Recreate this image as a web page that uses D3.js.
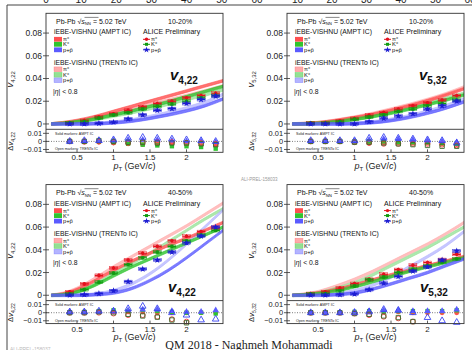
<!DOCTYPE html>
<html>
<head>
<meta charset="utf-8">
<script src="https://cdn.jsdelivr.net/npm/d3@7"></script>
<style>
body{margin:0;background:#fff;}
svg{display:block;font-family:"Liberation Sans",Arial,sans-serif;}
</style>
</head>
<body>
<svg id="chart" width="472" height="350"></svg>
<script>
// pT bins of the ALICE points and of the hydro curves
var ptData = [0.4,0.6,0.8,1.0,1.2,1.4,1.6,1.8,2.0,2.2,2.4];
var ptModel = [0.15,0.3,0.5,0.75,1.0,1.25,1.5,1.75,2.0,2.25,2.5];
var speciesSym = ["π","K","p+p\u0304"];
var yTicks = [0,0.02,0.04,0.06,0.08];
var dTicks = [-0.01,0,0.01];
var xTicks = [0.5,1,1.5,2];
var topTicks = [0,10,20,30,40,50,60];
var bandHalf = 0.0012;

// v4,22  10-20%   (rows: pi, K, p)
var v4c1Data   = [[0.001,0.003,0.006,0.009,0.012,0.015,0.018,0.020,0.023,0.025,0.027],
                  [0.001,0.002,0.005,0.008,0.010,0.013,0.0155,0.0175,0.020,0.023,0.025],
                  [0,0,0.0005,0.0015,0.0045,0.008,0.012,0.0135,0.018,0.0215,0.0245]];
var v4c1Ampt   = [[0,0.001,0.003,0.0065,0.011,0.0155,0.020,0.0245,0.029,0.0335,0.038],
                  [0,0.0005,0.002,0.0045,0.008,0.0115,0.0155,0.0195,0.024,0.0285,0.033],
                  [0,0,0,0.0002,0.001,0.0025,0.005,0.008,0.0115,0.016,0.022]];
var v4c1Trento = [[0,0.0008,0.0025,0.0055,0.009,0.013,0.017,0.021,0.025,0.029,0.0335],
                  [0,0.0005,0.0018,0.004,0.007,0.010,0.0135,0.0175,0.0215,0.0255,0.030],
                  [0,0,0,0.0005,0.0015,0.0035,0.0065,0.010,0.014,0.019,0.026]];
var v4c1dAmpt  = [[0,-0.001,-0.001,-0.002,-0.003,-0.004,-0.003,-0.003,-0.004,-0.005,-0.006],
                  [0,0,0,-0.001,-0.003,-0.004,-0.005,-0.006,-0.006,-0.007,-0.009],
                  [0,0,0.001,0.001,0.002,0.002,0.002,0.001,0,0,-0.001]];
var v4c1dTrento= [[0,0,0,-0.001,-0.002,-0.001,-0.001,-0.001,-0.002,-0.002,-0.003],
                  [0,0,0.001,0,-0.001,-0.001,-0.002,-0.002,-0.002,-0.003,-0.004],
                  [0,0.001,0.001,0.002,0.004,0.005,0.004,0.003,0.002,0.001,0]];

// v5,32  10-20%
var v5c1Data   = [[0.001,0.001,0.0027,0.0048,0.0077,0.010,0.013,0.016,0.0186,0.021,0.025],
                  [0.0005,0.0005,0.002,0.004,0.006,0.008,0.011,0.013,0.016,0.018,0.021],
                  [0,0,0,0,0.002,0.005,0.007,0.009,0.013,0.016,0.020]];
var v5c1Ampt   = [[0,0.0002,0.001,0.003,0.0055,0.0085,0.012,0.016,0.0205,0.0255,0.031],
                  [0,0.0001,0.0006,0.002,0.004,0.0065,0.0095,0.013,0.017,0.021,0.0255],
                  [0,0,0,0,0.0003,0.0012,0.003,0.0058,0.0095,0.014,0.0195]];
var v5c1Trento = [[0,0.0003,0.0012,0.0033,0.006,0.0092,0.013,0.017,0.0215,0.0265,0.0325],
                  [0,0.0001,0.0007,0.0022,0.0045,0.0072,0.0105,0.014,0.018,0.0225,0.027],
                  [0,0,0,0,0.0005,0.0018,0.004,0.0072,0.0112,0.016,0.022]];
var v5c1dAmpt  = [[0,0,0,-0.001,-0.002,-0.002,-0.002,-0.002,-0.002,-0.003,-0.004],
                  [0,0,0,0,0,0,-0.001,-0.001,-0.001,-0.002,-0.003],
                  [0,0,0,0,0.002,0.003,0.003,0.002,0.001,0,-0.001]];
var v5c1dTrento= [[0,0,0,-0.001,-0.002,-0.003,-0.003,-0.003,-0.003,-0.004,-0.005],
                  [0,0,0,-0.001,-0.001,-0.002,-0.003,-0.004,-0.005,-0.006,-0.006],
                  [0.001,0.001,0.001,0.001,0.004,0.005,0.004,0.003,0.002,0.001,-0.002]];

// v4,22  40-50%
var v4c4Data   = [[0.003,0.010,0.0175,0.024,0.031,0.037,0.043,0.048,0.052,0.056,0.059],
                  [0.001,0.005,0.0115,0.0195,0.027,0.033,0.038,0.043,0.048,0.053,0.057],
                  [0,0.0006,0.0015,0.004,0.012,0.023,0.031,0.038,0.046,0.052,0.060]];
var v4c4Ampt   = [[0,0.001,0.005,0.013,0.022,0.030,0.037,0.044,0.050,0.057,0.064],
                  [0,0.0005,0.003,0.009,0.017,0.025,0.032,0.039,0.046,0.053,0.060],
                  [0,0,0,0.0005,0.002,0.006,0.013,0.022,0.033,0.045,0.057]];
var v4c4Trento = [[0,0.0015,0.006,0.015,0.025,0.034,0.043,0.052,0.061,0.071,0.081],
                  [0,0.0005,0.0035,0.010,0.019,0.028,0.037,0.047,0.057,0.067,0.076],
                  [0,0,0,0.001,0.004,0.010,0.019,0.031,0.045,0.060,0.075]];
var v4c4dAmpt  = [[0,0,0.001,0.001,0.001,0.001,0,0,0,0,0],
                  [0,0.001,0.002,0.003,0.002,0.003,0.002,0.001,0,0,-0.001],
                  [0.001,0.001,0.001,0.002,0.003,0.004,0.004,0.002,0.001,0.001,0.003]];
var v4c4dTrento= [[0,0,0,-0.001,-0.003,-0.003,-0.005,-0.008,-0.011,null,null],
                  [0,0,0.001,0,-0.002,-0.004,-0.0055,-0.009,-0.0125,null,null],
                  [0.001,0.001,0.002,0.002,0.005,0.008,0.005,0,-0.003,-0.009,-0.008]];

// v5,32  40-50%
var v5c4Data   = [[0.0015,0.003,0.0064,0.0103,0.014,0.0185,0.0226,0.0264,0.0288,0.0314,0.036],
                  [0.001,0.0015,0.004,0.008,0.0136,0.016,0.020,0.023,0.026,0.029,0.032],
                  [0,0,0.0005,0.001,0.005,0.0106,0.0165,0.0212,0.025,0.031,0.039]];
var v5c4Ampt   = [[0,0.0005,0.002,0.005,0.009,0.0135,0.018,0.022,0.026,0.030,0.034],
                  [0,0.0003,0.0015,0.004,0.0075,0.012,0.0165,0.021,0.025,0.029,0.033],
                  [0,0,0,0.0005,0.002,0.0055,0.010,0.015,0.020,0.026,0.032]];
var v5c4Trento = [[0,0.0007,0.003,0.008,0.014,0.021,0.029,0.037,0.045,0.054,0.064],
                  [0,0.0004,0.002,0.006,0.011,0.018,0.026,0.034,0.042,0.051,0.060],
                  [0,0,0,0.001,0.004,0.009,0.016,0.025,0.034,0.044,0.056]];
var v5c4dAmpt  = [[0,0,0,0,0.001,0.001,0.001,0,0,0,0],
                  [0,0,0,0.001,0.002,0.002,0.002,0.002,0.002,0.002,0.003],
                  [0,0,0,0.001,0.002,0.003,0.003,0.002,0.002,0.002,0.004]];
var v5c4dTrento= [[0,0,0,-0.001,-0.003,-0.005,-0.007,-0.011,null,null,null],
                  [0,0,0,-0.001,-0.002,-0.004,-0.006,-0.011,null,null,null],
                  [0,0,0,0,0.001,0.004,0.003,0,-0.006,-0.010,-0.012]];

var dataColors   = ["#e3101c","#119a11","#1c1cd2"];
var amptColors   = ["#ff4f4f","#2fc42f","#5b5bff"];
var trentoColors = ["#ffabab","#93e093","#b4b4ff"];
var openColors   = ["#f03a3a","#3a6a2a","#3a44f0"];
var dataShapes   = [d3.symbolCircle,d3.symbolSquare,d3.symbolStar];
var ratioShapes  = [d3.symbolCircle,d3.symbolSquare,d3.symbolTriangle];

var makeTranslateString = function(x,y)
{
    return "translate("+x+","+y+")";
}

var panelW = 177, mainH = 116, ratioH = 23;

var addSubText = function(sel, main, sub, mainSize, subSize, italic, bold)
{
    sel.append("tspan").text(main)
        .attr("font-size",mainSize)
        .attr("font-style",italic ? "italic" : "normal")
        .attr("font-weight",bold ? "bold" : "normal");
    sel.append("tspan").text(sub)
        .attr("font-size",subSize)
        .attr("font-weight",bold ? "bold" : "normal")
        .attr("dy",mainSize*0.25);
}

var drawPanel = function(svg, ox, oy, p)
{
    var g = svg.append("g").attr("transform",makeTranslateString(ox,oy));
    var xScale = d3.scaleLinear().domain([0.075,2.5]).range([0,panelW]);
    var yScale = d3.scaleLinear().domain([-0.0047,0.0974]).range([mainH,0]);
    var dScale = d3.scaleLinear().domain([-0.0135,0.015]).range([mainH+ratioH,mainH]);

    var clipId = "clip"+p.id;
    g.append("clipPath").attr("id",clipId).append("rect")
        .attr("width",panelW).attr("height",mainH);
    var plot = g.append("g").attr("clip-path","url(#"+clipId+")");

    var area = d3.area()
        .x(function(d){return xScale(d.pt);})
        .y0(function(d){return yScale(d.v-bandHalf);})
        .y1(function(d){return yScale(d.v+bandHalf);})
        .curve(d3.curveMonotoneX);

    var toPts = function(arr){ return arr.map(function(v,i){return {pt:ptModel[i],v:v};}); };

    // model bands: TRENTo (light) below, AMPT on top
    p.trento.forEach(function(s,i){
        plot.append("path").datum(toPts(s)).attr("d",area)
            .attr("fill",trentoColors[i]).attr("fill-opacity",0.75)
            .attr("stroke",trentoColors[i]).attr("stroke-width",0.6);
    });
    p.ampt.forEach(function(s,i){
        plot.append("path").datum(toPts(s)).attr("d",area)
            .attr("fill",amptColors[i]).attr("fill-opacity",0.8)
            .attr("stroke",amptColors[i]).attr("stroke-width",0.6);
    });

    // ALICE points
    p.data.forEach(function(s,i){
        var pts = plot.selectAll(".d"+i)
            .data(s.map(function(v,j){return {pt:ptData[j],v:v};}))
            .enter().append("g")
            .attr("transform",function(d){return makeTranslateString(xScale(d.pt),yScale(d.v));});
        pts.append("rect").attr("x",-4).attr("y",-1.5).attr("width",8).attr("height",3)
            .attr("fill",dataColors[i]).attr("fill-opacity",0.25)
            .attr("stroke",dataColors[i]).attr("stroke-width",0.4);
        pts.append("line").attr("x1",-4).attr("x2",4)
            .attr("stroke",dataColors[i]).attr("stroke-width",1.1);
        pts.append("line").attr("y1",-1.8).attr("y2",1.8)
            .attr("stroke",dataColors[i]).attr("stroke-width",0.8);
        pts.append("path").attr("d",d3.symbol().type(dataShapes[i]).size(i==2?14:10))
            .attr("fill",dataColors[i]);
    });

    // ratio panel
    g.append("line").attr("x1",0).attr("x2",panelW)
        .attr("y1",dScale(0)).attr("y2",dScale(0))
        .attr("stroke","#444").attr("stroke-width",0.7).attr("stroke-dasharray","1,1.5");

    g.append("text").text("Solid markers: AMPT IC")
        .attr("x",9).attr("y",mainH+5.5).attr("font-size",3.6).attr("fill","#222");
    g.append("text").text("Open markers: TRENTo IC")
        .attr("x",9).attr("y",mainH+ratioH-2).attr("font-size",3.6).attr("fill","#222");

    var drawRatio = function(series, open)
    {
        series.forEach(function(s,i){
            var pts = s.map(function(v,j){return {pt:ptData[j],v:v};})
                .filter(function(d){return d.v!==null;});
            g.selectAll(".r"+(open?"o":"s")+i)
                .data(pts).enter().append("path")
                .attr("transform",function(d){return makeTranslateString(xScale(d.pt),dScale(d.v));})
                .attr("d",d3.symbol().type(ratioShapes[i]).size(19))
                .attr("fill",open ? "none" : amptColors[i])
                .attr("stroke",open ? openColors[i] : "none")
                .attr("stroke-width",0.9);
        });
    }
    drawRatio(p.dAmpt,false);
    drawRatio(p.dTrento,true);

    // frames
    g.append("rect").attr("width",panelW).attr("height",mainH+ratioH)
        .attr("fill","none").attr("stroke","#333").attr("stroke-width",0.9);
    g.append("line").attr("x1",0).attr("x2",panelW).attr("y1",mainH).attr("y2",mainH)
        .attr("stroke","#333").attr("stroke-width",0.9);

    // y axis main
    yTicks.forEach(function(t){
        g.append("line").attr("x1",-3).attr("x2",3).attr("y1",yScale(t)).attr("y2",yScale(t))
            .attr("stroke","#333").attr("stroke-width",0.8);
        g.append("text").text(t==0?"0":t.toFixed(2))
            .attr("x",-4).attr("y",yScale(t)).attr("dy","0.35em")
            .attr("text-anchor","end").attr("font-size",8.5).attr("fill","#222");
    });
    dTicks.forEach(function(t){
        g.append("line").attr("x1",-3).attr("x2",3).attr("y1",dScale(t)).attr("y2",dScale(t))
            .attr("stroke","#333").attr("stroke-width",0.8);
        g.append("text").text(t==0?"0":(t<0?"\u22120.01":"0.01"))
            .attr("x",-4).attr("y",dScale(t)).attr("dy","0.35em")
            .attr("text-anchor","end").attr("font-size",7.4).attr("fill","#222");
    });
    xTicks.forEach(function(t){
        g.append("line").attr("x1",xScale(t)).attr("x2",xScale(t))
            .attr("y1",mainH+ratioH).attr("y2",mainH+ratioH-3)
            .attr("stroke","#333").attr("stroke-width",0.8);
        g.append("text").text(t)
            .attr("x",xScale(t)).attr("y",mainH+ratioH+8)
            .attr("text-anchor","middle").attr("font-size",8).attr("fill","#222");
    });

    // axis titles
    var xt = g.append("text").attr("x",panelW/2).attr("y",mainH+ratioH+16.5)
        .attr("text-anchor","middle").attr("fill","#222");
    xt.append("tspan").text("p").attr("font-style","italic").attr("font-size",9);
    xt.append("tspan").text("T").attr("font-size",6).attr("dy",2);
    xt.append("tspan").text(" (GeV/").attr("font-size",9).attr("dy",-2);
    xt.append("tspan").text("c").attr("font-style","italic").attr("font-size",9);
    xt.append("tspan").text(")").attr("font-size",9);

    var yt = g.append("text").attr("transform",makeTranslateString(-33,66)+" rotate(-90)")
        .attr("text-anchor","middle").attr("fill","#222");
    addSubText(yt,"v",p.sub,9.5,6,true,false);
    var dt = g.append("text").attr("transform",makeTranslateString(-33,mainH+12)+" rotate(-90)")
        .attr("text-anchor","middle").attr("fill","#222");
    dt.append("tspan").text("\u0394").attr("font-size",7.5);
    addSubText(dt,"v",p.sub,8,5,true,false);

    // legend block
    var lg = g.append("g").attr("fill","#111");
    var t1 = lg.append("text").attr("x",10).attr("y",10.7).attr("font-size",7);
    t1.append("tspan").text("Pb-Pb  \u221A");
    t1.append("tspan").text("s").attr("font-style","italic");
    t1.append("tspan").text("NN").attr("font-size",4.3).attr("dy",1.5);
    t1.append("tspan").text(" = 5.02 TeV").attr("dy",-1.5);
    lg.append("line").attr("x1",38.5).attr("x2",52.5).attr("y1",4.1).attr("y2",4.1)
        .attr("stroke","#111").attr("stroke-width",0.5);
    lg.append("text").text(p.cent).attr("x",122).attr("y",10.7).attr("font-size",7);

    lg.append("text").text("iEBE-VISHNU (AMPT IC)").attr("x",8).attr("y",21.2).attr("font-size",6.8);
    lg.append("text").text("ALICE Preliminary").attr("x",97).attr("y",21.2).attr("font-size",7);
    lg.append("text").text("iEBE-VISHNU (TRENTo IC)").attr("x",8).attr("y",51.5).attr("font-size",6.8);

    var rowsA = [26,31,36.5], rowsT = [56,61.5,67];
    var writeSpecies = function(x,y,i)
    {
        var t = lg.append("text").attr("x",x).attr("y",y+2).attr("font-size",5.8);
        t.append("tspan").text(speciesSym[i]);
        if(i<2) t.append("tspan").text("\u00B1").attr("font-size",4).attr("dy",-2);
    }
    speciesSym.forEach(function(s,i){
        lg.append("rect").attr("x",8).attr("y",rowsA[i]-2.4).attr("width",8).attr("height",4.8)
            .attr("fill",amptColors[i]);
        writeSpecies(17,rowsA[i],i);
        lg.append("rect").attr("x",8).attr("y",rowsT[i]-2.4).attr("width",8).attr("height",4.8)
            .attr("fill",trentoColors[i]).attr("stroke",amptColors[i]).attr("stroke-opacity",0.5)
            .attr("stroke-width",0.5);
        writeSpecies(17,rowsT[i],i);
        var m = lg.append("g").attr("transform",makeTranslateString(100.5,rowsA[i]));
        m.append("line").attr("x1",-3.5).attr("x2",3.5).attr("stroke",dataColors[i]).attr("stroke-width",1);
        m.append("path").attr("d",d3.symbol().type(dataShapes[i]).size(i==2?12:9)).attr("fill",dataColors[i]);
        writeSpecies(105,rowsA[i],i);
    });

    var eta = lg.append("text").attr("x",7).attr("y",80.5).attr("font-size",6.8);
    eta.append("tspan").text("|");
    eta.append("tspan").text("\u03B7").attr("font-style","italic");
    eta.append("tspan").text("| < 0.8");

    var vt = g.append("text").attr("x",p.labelX).attr("y",p.labelY).attr("fill","#111");
    addSubText(vt,"v",p.sub,15,10,true,true);
}

var svg = d3.select("#chart");

// slide frame and the cut off axis from the slide above
svg.append("line").attr("x1",7).attr("x2",472).attr("y1",5).attr("y2",5)
    .attr("stroke","#444").attr("stroke-width",1);
svg.append("line").attr("x1",7).attr("x2",7).attr("y1",5).attr("y2",350)
    .attr("stroke","#444").attr("stroke-width",1);
var topA = d3.scaleLinear().domain([0,60]).range([46,257]);
var topB = d3.scaleLinear().domain([0,60]).range([263,470]);
topTicks.forEach(function(t){
    svg.append("text").text(t).attr("x",topA(t)).attr("y",3)
        .attr("text-anchor","middle").attr("font-size",10).attr("fill","#222");
    if(t>0) svg.append("text").text(t).attr("x",topB(t)).attr("y",3)
        .attr("text-anchor","middle").attr("font-size",10).attr("fill","#222");
});

drawPanel(svg,46,13.3,{id:"a",sub:"4,22",cent:"10-20%",labelX:124,labelY:67,
    data:v4c1Data,ampt:v4c1Ampt,trento:v4c1Trento,dAmpt:v4c1dAmpt,dTrento:v4c1dTrento});
drawPanel(svg,287,13.3,{id:"b",sub:"5,32",cent:"10-20%",labelX:132,labelY:67,
    data:v5c1Data,ampt:v5c1Ampt,trento:v5c1Trento,dAmpt:v5c1dAmpt,dTrento:v5c1dTrento});
drawPanel(svg,46,184.6,{id:"c",sub:"4,22",cent:"40-50%",labelX:122,labelY:107.5,
    data:v4c4Data,ampt:v4c4Ampt,trento:v4c4Trento,dAmpt:v4c4dAmpt,dTrento:v4c4dTrento});
drawPanel(svg,287,184.6,{id:"d",sub:"5,32",cent:"40-50%",labelX:133,labelY:107.5,
    data:v5c4Data,ampt:v5c4Ampt,trento:v5c4Trento,dAmpt:v5c4dAmpt,dTrento:v5c4dTrento});

svg.append("text").text("ALI-PREL-158033").attr("x",241).attr("y",180.5)
    .attr("font-size",4.5).attr("fill","#999");
svg.append("text").text("ALI-PREL-158037").attr("x",10).attr("y",351)
    .attr("font-size",5).attr("fill","#bbb");
svg.append("text").text("QM 2018 - Naghmeh Mohammadi")
    .attr("x",249).attr("y",348.5).attr("text-anchor","middle")
    .attr("font-family","'Liberation Serif','Times New Roman',serif")
    .attr("font-size",12).attr("fill","#222");
</script>
</body>
</html>
